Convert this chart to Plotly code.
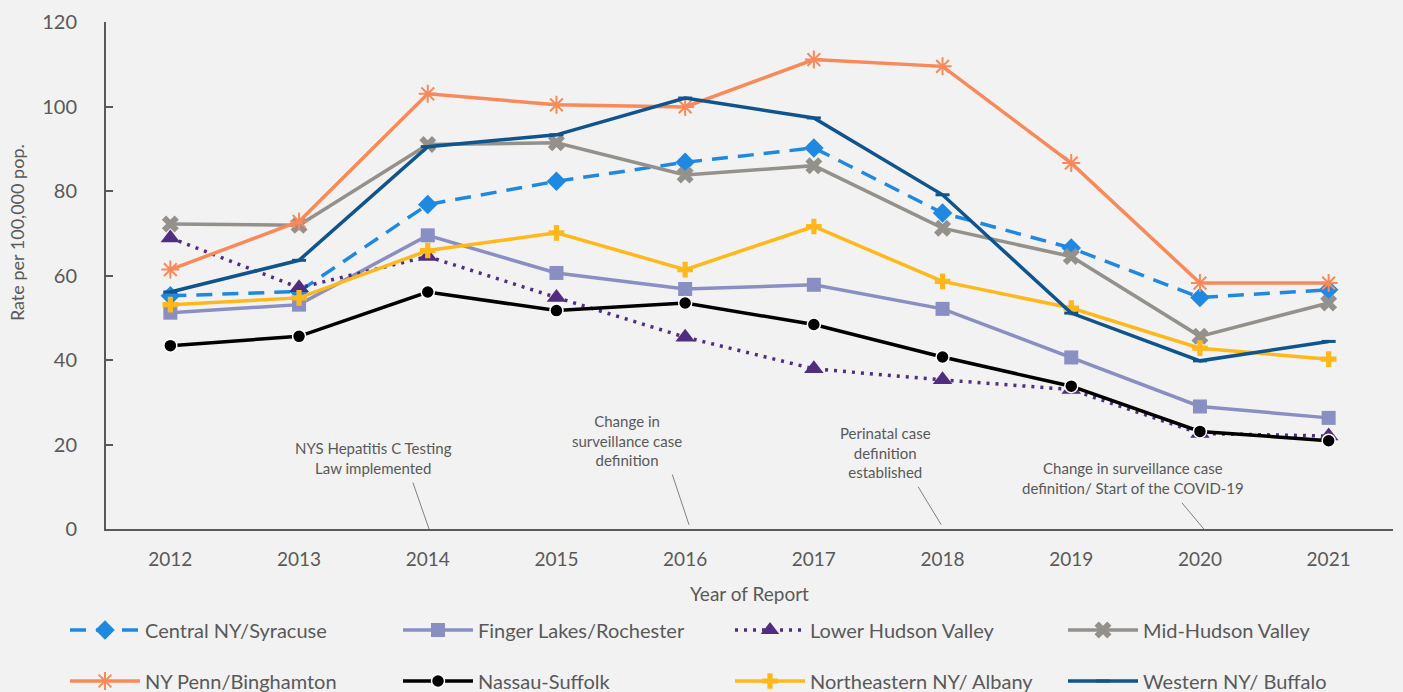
import plotly.graph_objects as go

years = [2012, 2013, 2014, 2015, 2016, 2017, 2018, 2019, 2020, 2021]

central_ny = [55.2, 56.2, 76.8, 82.3, 86.8, 90.2, 74.8, 66.5, 54.8, 56.6]
finger_lakes = [51.2, 53.1, 69.5, 60.6, 56.8, 57.8, 52.1, 40.6, 29.0, 26.3]
lower_hudson = [68.9, 57.1, 64.5, 54.8, 45.4, 37.9, 35.3, 33.0, 22.6, 22.0]
mid_hudson = [72.2, 71.9, 91.0, 91.4, 83.8, 86.0, 71.2, 64.5, 45.6, 53.5]
ny_penn = [61.4, 72.8, 103.0, 100.4, 99.9, 111.1, 109.5, 86.6, 58.2, 58.2]
nassau_suffolk = [43.4, 45.6, 56.1, 51.7, 53.5, 48.4, 40.7, 33.8, 23.1, 20.9]
northeastern = [53.1, 54.7, 65.9, 70.1, 61.4, 71.6, 58.6, 52.3, 42.8, 40.2]
western_ny = [56.1, 63.6, 90.5, 93.3, 102.0, 97.3, 79.1, 51.1, 39.8, 44.4]

y_ticks = [0, 20, 40, 60, 80, 100, 120]

notes = [
    "NYS Hepatitis C Testing<br>Law implemented",
    "Change in<br>surveillance case<br>definition",
    "Perinatal case<br>definition<br>established",
    "Change in surveillance case<br>definition/ Start of the COVID-19",
]
note_x = [2013.58, 2015.55, 2017.56, 2019.48]
note_y = [16.9, 20.9, 18.1, 12.0]
leader_x0 = [2013.885, 2015.90, 2017.81, 2019.86]
leader_y0 = [10.96, 12.9, 10.0, 6.2]
leader_x1 = [2014.01, 2016.03, 2017.99, 2020.03]
leader_y1 = [0.0, 1.0, 1.0, 0.0]

TXT = "#595959"
FONT = "Lato"

# legend slot (left px of each legend box, row centre px) for each series, in legend order
leg_col_px = [65, 398, 730, 1063]
leg_row_px = [630, 681]

fig = go.Figure()
slot = [0]

def add(name, vals, color, width, dash, symbol, size, mline=None):
    i = slot[0]
    slot[0] += 1
    lid = "legend" if i == 0 else f"legend{i + 1}"
    marker = dict(symbol=symbol, size=size, color=color)
    if mline:
        marker["line"] = mline
    fig.add_trace(go.Scatter(
        x=years, y=vals, name=name, mode="lines+markers", showlegend=True,
        line=dict(color=color, width=width, dash=dash),
        marker=marker, legend=lid,
    ))
    col = leg_col_px[i % 4]
    row = leg_row_px[i // 4]
    fig.update_layout({lid: dict(
        orientation="h", itemwidth=70,
        font=dict(family=FONT, size=20, color=TXT), bgcolor="rgba(0,0,0,0)",
        xref="container", yref="container", xanchor="left", yanchor="middle",
        x=col / 1403, y=(692 - row) / 692,
    )})

add("Central NY/Syracuse", central_ny, "#1f88e0", 3.5, "16px,10px", "diamond", 15)
add("Finger Lakes/Rochester", finger_lakes, "#8a8fc3", 3.5, "solid", "square", 14)
add("Lower Hudson Valley", lower_hudson, "#4f2d7f", 3.5, "3px,6px", "triangle-up", 17)
add("Mid-Hudson Valley", mid_hudson, "#94918c", 3.5, "solid", "x", 15)
add("NY Penn/Binghamton", ny_penn, "#f88a5a", 3.5, "solid", "asterisk-open", 15,
    mline=dict(color="#f88a5a", width=2))
add("Nassau-Suffolk", nassau_suffolk, "#000000", 3.5, "solid", "circle", 13,
    mline=dict(color="#ffffff", width=1.5))
add("Northeastern NY/ Albany", northeastern, "#ffb81c", 3.5, "solid", "cross", 13)
add("Western NY/ Buffalo", western_ny, "#0f548c", 3.5, "solid", "line-ew-open", 10,
    mline=dict(color="#0f548c", width=3))

annotations = []
for t, x, y in zip(notes, note_x, note_y):
    annotations.append(dict(x=x, y=y, xref="x", yref="y", text=t, showarrow=False,
                            font=dict(family=FONT, size=15, color=TXT), align="center"))

annotations.append(dict(x=-0.069, y=0.584, xref="paper", yref="paper",
                        xanchor="center", yanchor="middle",
                        text="Rate per 100,000 pop.", textangle=-90, showarrow=False,
                        font=dict(family=FONT, size=18, color=TXT)))

shapes = []
for x0, y0, x1, y1 in zip(leader_x0, leader_y0, leader_x1, leader_y1):
    shapes.append(dict(type="line", xref="x", yref="y", x0=x0, y0=y0, x1=x1, y1=y1,
                       line=dict(color="#808080", width=1)))

fig.update_layout(
    width=1403, height=692, showlegend=True,
    paper_bgcolor="#f2f2f2", plot_bgcolor="#f2f2f2",
    margin=dict(l=106, r=10, t=22, b=163),
    font=dict(family=FONT, color=TXT),
    xaxis=dict(range=[2011.5, 2021.5], tickmode="array", tickvals=years, automargin=False,
               ticktext=[str(y) for y in years], showgrid=False, zeroline=False,
               showline=True, linecolor="#595959", linewidth=2,
               tickfont=dict(family=FONT, size=19, color=TXT), ticks="", ticklabelstandoff=12,
               title=dict(text="Year of Report", font=dict(family=FONT, size=19, color=TXT), standoff=19)),
    yaxis=dict(range=[0, 120], tickmode="array", tickvals=y_ticks, showgrid=False, zeroline=False,
               showline=True, linecolor="#595959", linewidth=2, ticks="inside", ticklen=7,
               tickcolor="#595959", tickwidth=2, ticklabelstandoff=23, automargin=False,
               tickfont=dict(family=FONT, size=20, color=TXT)),
    annotations=annotations,
    shapes=shapes,
)

fig.write_html("out.html", config={"displayModeBar": False},
               post_script="document.body.style.margin='0';")
